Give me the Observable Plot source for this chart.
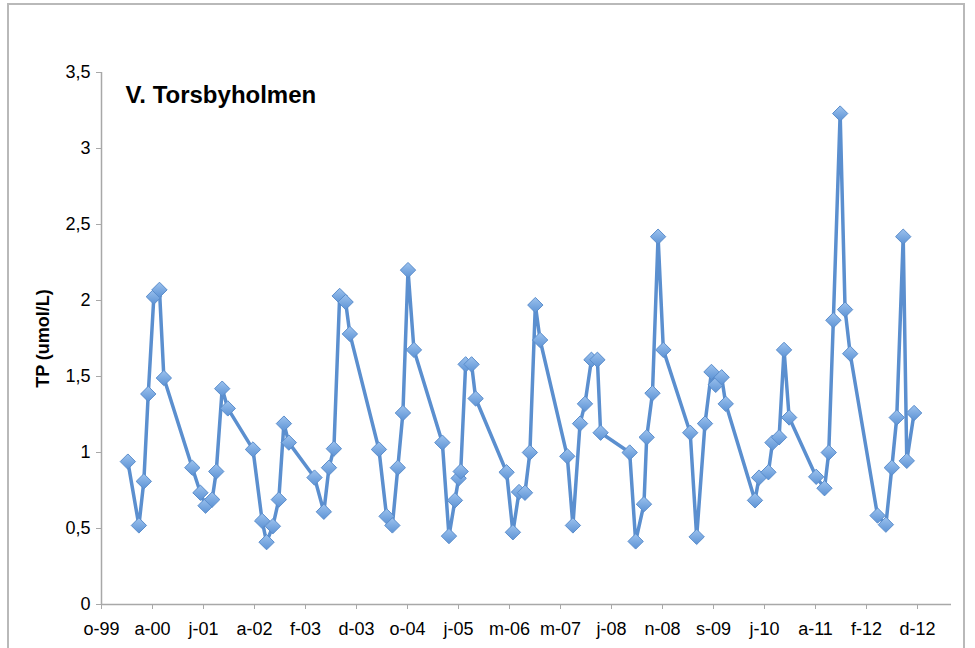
<!DOCTYPE html>
<html>
<head>
<meta charset="utf-8">
<script src="https://cdn.jsdelivr.net/npm/d3@7"></script>
<script src="https://cdn.jsdelivr.net/npm/@observablehq/plot@0.6"></script>
<style>
  html, body { margin: 0; padding: 0; background: #fff; overflow: hidden; }
  #wrap { position: relative; width: 975px; height: 648px; }
  #frame { position: absolute; left: 7px; top: 3px; width: 958px; height: 700px; border: 2px solid #b9b9b9; box-sizing: border-box; }
  #chart { position: absolute; left: 0; top: 0; }
</style>
</head>
<body>
<div id="wrap"><div id="frame"></div><div id="chart"></div></div>
<script>
const title = "V. Torsbyholmen";
const yLabel = "TP (umol/L)";

const dates = [
  "2000-03-28","2000-06-01","2000-06-30","2000-07-26","2000-08-28","2000-09-30","2000-10-26",
  "2001-04-11","2001-05-29","2001-06-28","2001-08-06","2001-08-30","2001-10-04","2001-11-06",
  "2002-04-03","2002-05-27","2002-06-22","2002-07-29","2002-09-02","2002-10-02","2002-10-31",
  "2003-03-31","2003-05-25","2003-06-24","2003-07-23","2003-08-26","2003-09-30","2003-10-25",
  "2004-04-13","2004-05-28","2004-07-01","2004-08-02","2004-09-01","2004-10-01","2004-11-05",
  "2005-04-21","2005-05-30","2005-07-04","2005-07-26","2005-08-07","2005-09-05","2005-10-10","2005-11-03",
  "2006-05-04","2006-06-10","2006-07-16","2006-08-20","2006-09-18","2006-10-20","2006-11-17",
  "2007-04-26","2007-05-29","2007-07-10","2007-08-08","2007-09-15","2007-10-20","2007-11-08",
  "2008-04-27","2008-06-01","2008-07-20","2008-08-05","2008-09-08","2008-10-11","2008-11-11",
  "2009-04-18","2009-05-26","2009-07-14","2009-08-21","2009-09-15","2009-10-20","2009-11-13",
  "2010-05-04","2010-05-28","2010-07-22","2010-08-15","2010-09-23","2010-10-22","2010-11-21",
  "2011-04-29","2011-06-17","2011-07-12","2011-08-08","2011-09-17","2011-10-16","2011-11-15",
  "2012-04-24","2012-06-12","2012-07-17","2012-08-15","2012-09-22","2012-10-13","2012-11-25"
];

const tp = [
  0.94, 0.52, 0.81, 1.385, 2.025, 2.07, 1.49,
  0.90, 0.735, 0.65, 0.69, 0.875, 1.42, 1.29,
  1.02, 0.55, 0.41, 0.515, 0.69, 1.19, 1.065,
  0.835, 0.61, 0.90, 1.025, 2.03, 1.99, 1.78,
  1.02, 0.58, 0.52, 0.90, 1.26, 2.20, 1.675,
  1.065, 0.45, 0.685, 0.83, 0.875, 1.58, 1.58, 1.355,
  0.87, 0.475, 0.74, 0.735, 1.00, 1.97, 1.74,
  0.975, 0.52, 1.19, 1.32, 1.61, 1.61, 1.13,
  1.00, 0.415, 0.66, 1.10, 1.39, 2.42, 1.675,
  1.13, 0.445, 1.19, 1.53, 1.445, 1.495, 1.32,
  0.685, 0.835, 0.87, 1.065, 1.10, 1.675, 1.23,
  0.84, 0.765, 1.00, 1.87, 3.23, 1.94, 1.65,
  0.585, 0.525, 0.90, 1.23, 2.42, 0.945, 1.26
];

const xTickLabels = ["o-99","a-00","j-01","a-02","f-03","d-03","o-04","j-05","m-06","m-07","j-08","n-08","s-09","j-10","a-11","f-12","d-12"];
const yTicks = [0, 0.5, 1, 1.5, 2, 2.5, 3, 3.5];

// Excel-style date axis: start date and major unit (days)
const axisStart = new Date("1999-10-25");
const majorUnitDays = 300;
const axisEnd = d3.utcDay.offset(axisStart, majorUnitDays * (xTickLabels.length - 1) + 200);
const xTickDates = xTickLabels.map((_, i) => d3.utcDay.offset(axisStart, majorUnitDays * i));
const labelByTime = new Map(xTickDates.map((d, i) => [+d, xTickLabels[i]]));

const data = dates.map((d, i) => ({date: new Date(d), value: tp[i]}));

const font = "Helvetica, Arial, 'Liberation Sans', sans-serif";
const axisGray = "#a8a8a8";
const lineBlue = "#5b8fcf";

const chart = Plot.plot({
  width: 975,
  height: 648,
  marginLeft: 101,
  marginRight: 24,
  marginTop: 72,
  marginBottom: 44,
  style: {fontFamily: font, fontSize: "18px", color: "#000", background: "transparent"},
  x: {type: "utc", domain: [axisStart, axisEnd]},
  y: {domain: [0, 3.5]},
  marks: [
    Plot.axisX({ticks: xTickDates, tickFormat: d => labelByTime.get(+d), tickSize: 5, tickPadding: 13, stroke: axisGray, label: null}),
    Plot.axisY({ticks: yTicks, tickFormat: d => String(d).replace(".", ","), tickSize: 5, tickPadding: 6, stroke: axisGray, label: null}),
    Plot.ruleY([0], {stroke: axisGray, strokeWidth: 1.5}),
    Plot.ruleX([axisStart], {stroke: axisGray, strokeWidth: 1.5}),
    Plot.line(data, {x: "date", y: "value", stroke: lineBlue, strokeWidth: 3.5, strokeLinejoin: "round"}),
    Plot.dot(data, {x: "date", y: "value", symbol: "diamond2", r: 6.9, fill: "url(#mkgrad)", stroke: "#5a8dcc", strokeWidth: 1}),
    Plot.text([title], {frameAnchor: "top-left", dx: 24, dy: 30, lineAnchor: "bottom", textAnchor: "start", fontSize: 24, fontWeight: "bold", fill: "#000"}),
    Plot.text([yLabel], {frameAnchor: "left", dx: -58, rotate: -90, textAnchor: "middle", lineAnchor: "middle", fontSize: 18, fontWeight: "bold", fill: "#000"})
  ]
});

const ns = "http://www.w3.org/2000/svg";
const defs = document.createElementNS(ns, "defs");
defs.innerHTML = '<linearGradient id="mkgrad" x1="0" y1="0" x2="0" y2="1"><stop offset="0" stop-color="#9cc2ee"/><stop offset="1" stop-color="#5d93d5"/></linearGradient>';
chart.insertBefore(defs, chart.firstChild);

document.getElementById("chart").appendChild(chart);
</script>
</body>
</html>
